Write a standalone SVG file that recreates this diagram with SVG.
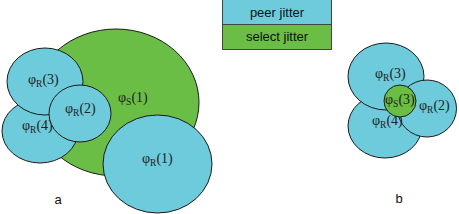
<svg xmlns="http://www.w3.org/2000/svg" width="459" height="214" viewBox="0 0 459 214">
<style>
.peer{fill:#6dcbdc;stroke:#1a1a1a;stroke-width:1}
.sel{fill:#6abd45;stroke:#1a1a1a;stroke-width:1}
.lbl{font-family:"Liberation Serif","Times New Roman",serif;font-size:14px;fill:#222}
.sub{font-size:9.5px}
.leg{font-family:"Liberation Sans",Arial,sans-serif;font-size:13px;fill:#111;text-anchor:middle}
.cap{font-family:"Liberation Sans",Arial,sans-serif;font-size:13px;fill:#111;text-anchor:middle}
</style>
<rect width="459" height="214" fill="#fff"/>
<g id="legend">
<rect class="peer" x="222.5" y="-0.5" width="109" height="25" style="stroke:#444"/>
<rect class="sel" x="222.5" y="24.5" width="109" height="25" style="stroke:#444"/>
<text class="leg" x="277" y="17">peer jitter</text>
<text class="leg" x="277" y="41">select jitter</text>
</g>
<g id="a-phiS1">
<ellipse class="sel" cx="116" cy="102.5" rx="83" ry="73.5"/>
<text class="lbl" x="118" y="102">φ<tspan class="sub" dy="3">S</tspan><tspan dy="-3">(1)</tspan></text>
</g>
<g id="a-phiR4">
<ellipse class="peer" cx="40" cy="131" rx="38" ry="32"/>
</g>
<g id="a-phiR3">
<ellipse class="peer" cx="45" cy="81.5" rx="38" ry="33.5"/>
<text class="lbl" x="28" y="84">φ<tspan class="sub" dy="3">R</tspan><tspan dy="-3">(3)</tspan></text>
</g>
<text class="lbl" x="22" y="130">φ<tspan class="sub" dy="3">R</tspan><tspan dy="-3">(4)</tspan></text>
<g id="a-phiR2">
<ellipse class="peer" cx="80" cy="113.5" rx="31" ry="28.5"/>
<text class="lbl" x="65" y="113">φ<tspan class="sub" dy="3">R</tspan><tspan dy="-3">(2)</tspan></text>
</g>
<g id="a-phiR1">
<ellipse class="peer" cx="157.5" cy="164" rx="54.5" ry="49"/>
<text class="lbl" x="142" y="163">φ<tspan class="sub" dy="3">R</tspan><tspan dy="-3">(1)</tspan></text>
</g>
<text class="cap" x="58" y="204">a</text>
<g id="b-phiR4">
<ellipse class="peer" cx="385" cy="126" rx="37" ry="32"/>
</g>
<g id="b-phiR3">
<ellipse class="peer" cx="386" cy="76.5" rx="38" ry="33.5"/>
<text class="lbl" x="375" y="78">φ<tspan class="sub" dy="3">R</tspan><tspan dy="-3">(3)</tspan></text>
</g>
<g id="b-phiR2">
<ellipse class="peer" cx="427" cy="108.5" rx="29.5" ry="28.5"/>
<text class="lbl" x="419" y="110">φ<tspan class="sub" dy="3">R</tspan><tspan dy="-3">(2)</tspan></text>
</g>
<text class="lbl" x="372" y="125">φ<tspan class="sub" dy="3">R</tspan><tspan dy="-3">(4)</tspan></text>
<g id="b-phiS3">
<circle class="sel" cx="400" cy="101" r="16"/>
<text class="lbl" x="385" y="104">φ<tspan class="sub" dy="3">S</tspan><tspan dy="-3">(3)</tspan></text>
</g>
<text class="cap" x="399" y="203">b</text>
</svg>
